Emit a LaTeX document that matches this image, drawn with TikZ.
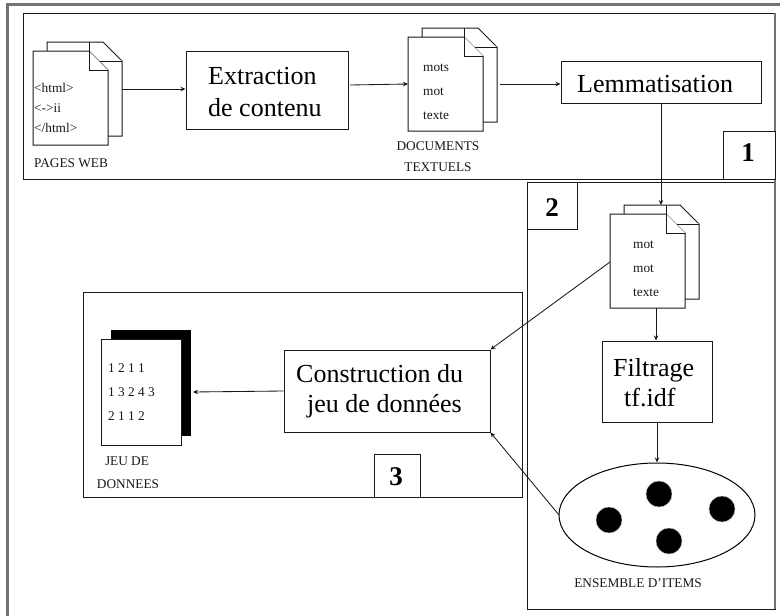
\documentclass[tikz,border=0pt]{standalone}
\usepackage{fontspec}
\setmainfont{Liberation Serif}
\usetikzlibrary{arrows.meta,shapes.geometric}
\tikzset{
  box/.style={draw=black!90,line width=1pt,fill=white,rectangle,inner sep=0pt},
  frame/.style={draw=black!90,line width=1pt},
  small/.style={inner sep=0pt,anchor=base west,font=\fontsize{13.3}{15}\selectfont,text=black!90},
  smallc/.style={inner sep=0pt,anchor=base,font=\fontsize{13.3}{15}\selectfont,text=black!90},
  big/.style={inner sep=0pt,anchor=base west,font=\fontsize{26}{30}\selectfont},
  num/.style={inner sep=0pt,font=\fontsize{27}{30}\selectfont\bfseries},
  conn/.style={draw=black!90,line width=0.85pt,-{Stealth[length=5pt,width=4.5pt]}},
  dot/.style={circle,fill=black,draw=black!30,line width=0.4pt,minimum size=26pt,inner sep=0pt},
}
\newcommand{\docpage}[3]{% name, x, y of front top-left
  \draw[box] (#2+14,#3-9) -- (#2+70,#3-9) -- (#2+89,#3+10) -- (#2+89,#3+85) -- (#2+14,#3+85) -- cycle;
  \draw[box] (#2+56,#3-9) -- (#2+56,#3+10) -- (#2+89,#3+10);
  \draw[box] (#2,#3) -- (#2+56,#3) -- (#2+75,#3+19) -- (#2+75,#3+94) -- (#2,#3+94) -- cycle;
  \draw[box] (#2+56,#3) -- (#2+56,#3+19) -- (#2+75,#3+19);
  \node[minimum width=89pt,minimum height=103pt,inner sep=0pt,anchor=north west] (#1) at (#2,#3-9) {};
}
\begin{document}
\begin{tikzpicture}[x=1pt,y=-1pt]
\useasboundingbox (0,0) rectangle (780,616);
\fill[white] (0,0) rectangle (780,616);
% outer frame
\draw[black!55,line width=2.2pt] (7.5,616) -- (7.5,4.5) -- (780,4.5);
% panels
\draw[frame] (23,13) rectangle (775,179);
\draw[frame] (527,182.5) rectangle (775,609);
\draw[frame] (83,292) rectangle (522,497);
\draw[black!55,line width=1.5pt] (775,13) -- (775,609);
% page stacks
\docpage{pa}{33}{51}
\docpage{pb}{408}{37}
\docpage{pc}{610}{214}
\node[small] at (34,92) {<html>};
\node[small] at (34,112) {<->ii};
\node[small] at (34,132) {</html>};
\node[small] at (34,167) {PAGES WEB};
\node[small] at (423,71) {mots};
\node[small] at (423,95) {mot};
\node[small] at (423,119) {texte};
\node[smallc] at (438,150) {DOCUMENTS};
\node[smallc] at (438,171) {TEXTUELS};
\node[small] at (633,248) {mot};
\node[small] at (633,272) {mot};
\node[small] at (633,296) {texte};
% process boxes
\node[box,minimum width=162pt,minimum height=78pt] (extr) at (267,90) {};
\node[big] at (208,84) {Extraction};
\node[big] at (208,116) {de contenu};
\node[box,minimum width=200pt,minimum height=42pt] (lemm) at (661,82) {};
\node[big] at (577,92) {Lemmatisation};
\node[box,minimum width=110pt,minimum height=81pt] (filt) at (657,381.5) {};
\node[big] at (613,376) {Filtrage};
\node[big] at (624,406) {tf.idf};
\node[box,minimum width=206pt,minimum height=82pt] (cons) at (387,391) {};
\node[big] at (296,382) {Construction du};
\node[big] at (307,412) {jeu de données};
% items
\node[draw=black,line width=1pt,fill=white,ellipse,minimum width=196pt,minimum height=104pt,inner sep=0pt] (items) at (657,515) {};
\node[dot] (d1) at (609,520) {};
\node[dot] (d2) at (659,494) {};
\node[dot] (d3) at (722,509) {};
\node[dot] (d4) at (669,541) {};
\node[smallc] at (638,587) {ENSEMBLE D’ITEMS};
% dataset
\fill[black] (111,330) rectangle (191,436);
\node[box,minimum width=80pt,minimum height=106pt,anchor=north west] (data) at (101,339) {};
\coordinate (datatip) at (193,392);
\node[small] at (108,372) {1 2 1 1};
\node[small] at (108,396) {1 3 2 4 3};
\node[small] at (108,420) {2 1 1 2};
\node[smallc] at (127,465) {JEU DE};
\node[smallc] at (128,488) {DONNEES};
% number tags
\node[box,minimum width=52pt,minimum height=48pt] (n1) at (749,155) {};
\node[num] at (748,153) {1};
\node[box,minimum width=50pt,minimum height=46.5pt] (n2) at (552,205.75) {};
\node[num] at (552,208) {2};
\node[box,minimum width=46pt,minimum height=43pt] (n3) at (397,475.5) {};
\node[num] at (396,477) {3};
% connectors
\coordinate (pa-out) at (122,89);
\coordinate (ex-out) at (350,85);
\coordinate (pb-in) at (408,84);
\coordinate (pb-out) at (500,84);
\coordinate (pc-left) at (610,262);
\coordinate (pc-bottom) at (656,308);
\coordinate (pc-top) at (661,205);
\coordinate (item-left) at (559,515);
\path[conn] (pa-out) -- (extr.west |- pa-out);
\path[conn] (ex-out) -- (pb-in);
\path[conn] (pb-out) -- (lemm.west |- pb-out);
\path[conn] (lemm.south) -- (pc-top);
\path[conn] (pc-bottom) -- (pc-bottom |- filt.north);
\path[conn] (filt.south) -- (items.north);
\path[conn] (pc-left) -- (cons.north east);
\path[conn] (item-left) -- (cons.south east);
\path[conn] (cons.west) -- (datatip);
\end{tikzpicture}
\end{document}
